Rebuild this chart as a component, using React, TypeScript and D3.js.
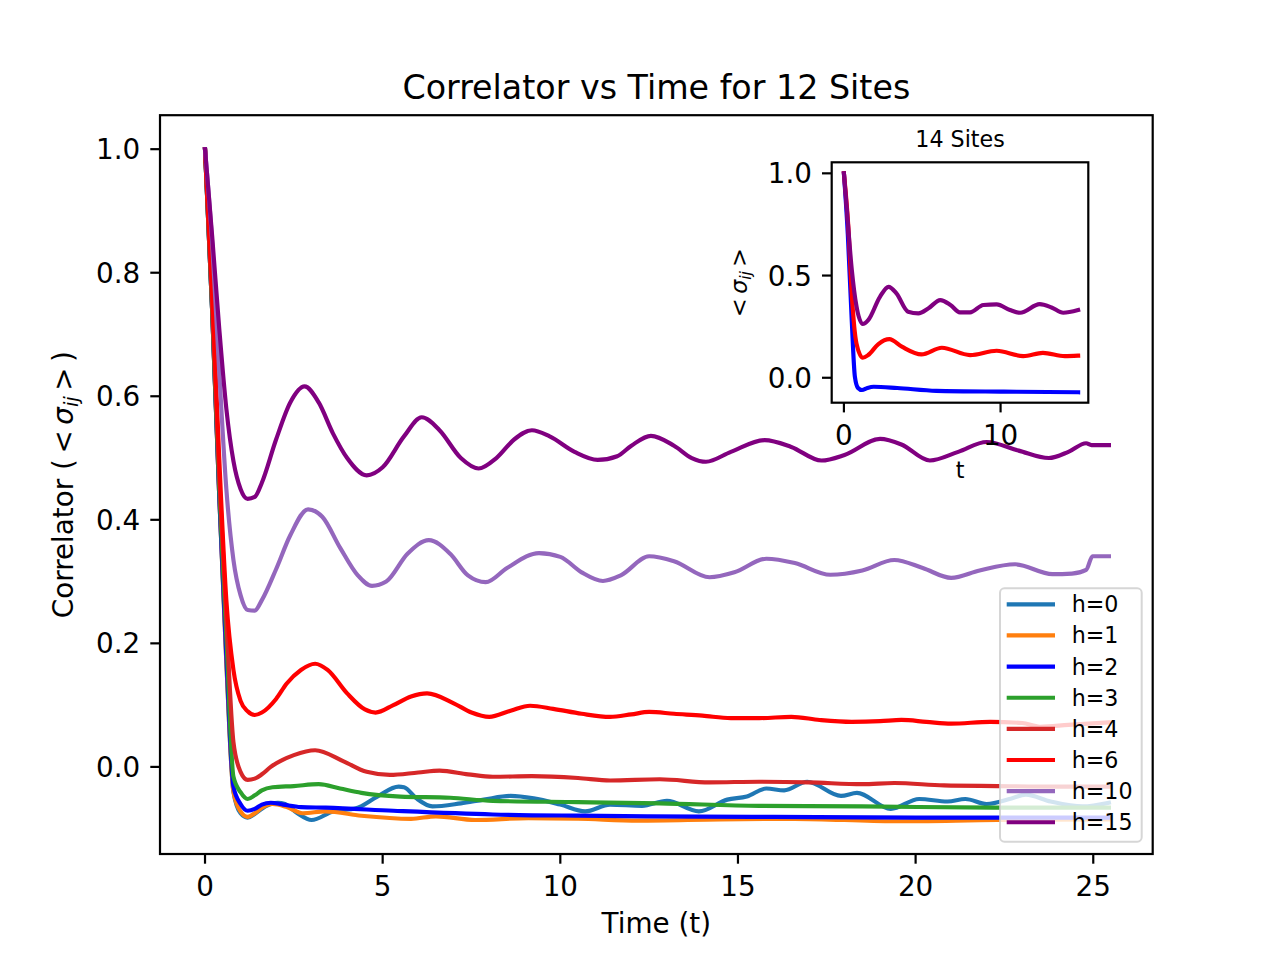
import React, { useEffect } from "react";
import * as d3 from "d3";

type Pt = [number, number];

// 12 sites, main panel: [t, correlator]
const h0: Pt[] = [
  [0, 1], [0.2, 0.74], [0.4, 0.44], [0.6, 0.17], [0.8, -0.04], [1.0, -0.075], [1.2, -0.082], [1.4, -0.076],
  [1.7, -0.064], [2.05, -0.058], [2.25, -0.06], [2.6, -0.075], [3.0, -0.086], [3.6, -0.072], [4.25, -0.067],
  [4.85, -0.048], [5.45, -0.032], [5.6, -0.033], [5.95, -0.051], [6.4, -0.064], [7.2, -0.059], [7.85, -0.053],
  [8.6, -0.047], [9.25, -0.051], [10.0, -0.061], [10.7, -0.072], [11.4, -0.061], [12.3, -0.063], [13.0, -0.055],
  [13.9, -0.072], [14.7, -0.053], [15.25, -0.048], [15.8, -0.035], [16.3, -0.038], [16.95, -0.024],
  [17.9, -0.047], [18.35, -0.042], [19.3, -0.068], [20.1, -0.052], [20.9, -0.056], [21.4, -0.052],
  [22.0, -0.06], [22.7, -0.051], [23.1, -0.045], [23.8, -0.056], [24.7, -0.064], [25.44, -0.058],
];
const h1: Pt[] = [
  [0, 1], [0.2, 0.74], [0.4, 0.44], [0.6, 0.17], [0.8, -0.04], [1.0, -0.072], [1.2, -0.081], [1.4, -0.075],
  [1.6, -0.066], [1.9, -0.06], [2.3, -0.065], [2.75, -0.075], [3.4, -0.072], [4.4, -0.079], [5.8, -0.084],
  [6.5, -0.08], [7.6, -0.086], [9.1, -0.083], [10.5, -0.084], [12.2, -0.087], [14.5, -0.085], [16.6, -0.084],
  [19.4, -0.088], [22.3, -0.086], [25.44, -0.085],
];
const h2: Pt[] = [
  [0, 1], [0.2, 0.74], [0.4, 0.44], [0.6, 0.18], [0.8, -0.032], [1.0, -0.06], [1.2, -0.071], [1.4, -0.068],
  [1.6, -0.061], [1.85, -0.058], [2.2, -0.061], [2.7, -0.065], [3.4, -0.066], [5.3, -0.071], [8.1, -0.077],
  [10.5, -0.079], [12.5, -0.08], [16, -0.081], [20, -0.082], [25.44, -0.082],
];
const h3: Pt[] = [
  [0, 1], [0.2, 0.74], [0.4, 0.45], [0.6, 0.21], [0.8, -0.016], [1.0, -0.041], [1.2, -0.052], [1.4, -0.046],
  [1.6, -0.038], [1.9, -0.033], [2.5, -0.031], [3.2, -0.028], [3.8, -0.035], [4.4, -0.042], [5.5, -0.048],
  [6.9, -0.05], [8.1, -0.055], [10.5, -0.057], [12.8, -0.059], [15.6, -0.063], [18.5, -0.064], [22.3, -0.066],
  [25.44, -0.066],
];
const h4: Pt[] = [
  [0, 1], [0.2, 0.75], [0.4, 0.47], [0.6, 0.24], [0.8, 0.04], [1.0, -0.008], [1.2, -0.021], [1.4, -0.019],
  [1.6, -0.012], [1.85, 0.0], [2.5, 0.019], [3.1, 0.027], [3.9, 0.009], [4.55, -0.008], [5.2, -0.013],
  [6.0, -0.009], [6.6, -0.006], [7.4, -0.012], [8.1, -0.016], [9.2, -0.015], [10.5, -0.018], [11.4, -0.022],
  [12.8, -0.02], [14.2, -0.025], [15.6, -0.024], [17.0, -0.025], [18.5, -0.028], [19.4, -0.026],
  [20.8, -0.03], [22.3, -0.031], [24.0, -0.032], [25.44, -0.032],
];
const h6: Pt[] = [
  [0, 1], [0.2, 0.77], [0.4, 0.5], [0.6, 0.27], [0.8, 0.157], [1.0, 0.107], [1.2, 0.09], [1.4, 0.084],
  [1.6, 0.088], [2.0, 0.11], [2.3, 0.135], [2.7, 0.157], [3.1, 0.167], [3.45, 0.157], [4.0, 0.119],
  [4.5, 0.093], [4.8, 0.088], [5.3, 0.1], [5.8, 0.114], [6.25, 0.119], [7.0, 0.103], [7.5, 0.088],
  [8.0, 0.081], [8.6, 0.091], [9.15, 0.099], [9.8, 0.094], [10.6, 0.086], [11.4, 0.081], [12.0, 0.085],
  [12.5, 0.089], [13.2, 0.086], [14.0, 0.083], [14.8, 0.079], [15.6, 0.079], [16.5, 0.081], [17.3, 0.076],
  [18.2, 0.073], [19.0, 0.074], [19.6, 0.076], [20.3, 0.073], [21.0, 0.07], [22.1, 0.073], [23.0, 0.071],
  [23.5, 0.065], [24.3, 0.068], [25.44, 0.072],
];
const h10: Pt[] = [
  [0, 1], [0.2, 0.85], [0.4, 0.64], [0.6, 0.45], [0.8, 0.335], [1.0, 0.278], [1.2, 0.254], [1.4, 0.253],
  [1.6, 0.27], [2.0, 0.32], [2.4, 0.375], [2.9, 0.417], [3.3, 0.405], [3.8, 0.355], [4.3, 0.31], [4.7, 0.293],
  [5.1, 0.3], [5.7, 0.345], [6.3, 0.367], [6.9, 0.345], [7.4, 0.31], [7.9, 0.299], [8.5, 0.322], [9.4, 0.346],
  [10.0, 0.34], [10.6, 0.315], [11.2, 0.301], [11.7, 0.31], [12.5, 0.341], [13.2, 0.333], [14.2, 0.307],
  [14.9, 0.315], [15.8, 0.337], [16.6, 0.33], [17.6, 0.311], [18.5, 0.318], [19.4, 0.335], [20.2, 0.322],
  [21.0, 0.306], [21.8, 0.318], [22.8, 0.328], [23.85, 0.312], [24.4, 0.313], [24.8, 0.319], [24.98, 0.341],
  [25.44, 0.341],
];
const h15: Pt[] = [
  [0, 1], [0.2, 0.86], [0.4, 0.71], [0.6, 0.58], [0.8, 0.495], [1.0, 0.45], [1.2, 0.434], [1.4, 0.437],
  [1.6, 0.46], [2.0, 0.53], [2.4, 0.59], [2.8, 0.616], [3.2, 0.59], [3.6, 0.54], [4.0, 0.5], [4.55, 0.472],
  [5.0, 0.485], [5.6, 0.535], [6.1, 0.566], [6.6, 0.545], [7.2, 0.5], [7.7, 0.483], [8.2, 0.5], [8.7, 0.53],
  [9.2, 0.545], [9.7, 0.535], [10.4, 0.51], [11.05, 0.497], [11.6, 0.503], [12.0, 0.52], [12.55, 0.536],
  [13.2, 0.52], [13.7, 0.5], [14.1, 0.494], [14.8, 0.51], [15.75, 0.529], [16.5, 0.518], [17.35, 0.496],
  [18.0, 0.505], [19.0, 0.531], [19.6, 0.522], [20.4, 0.496], [21.2, 0.51], [22.0, 0.526], [22.9, 0.512],
  [23.75, 0.5], [24.3, 0.51], [24.8, 0.524], [24.95, 0.521], [25.44, 0.521],
];

// 14 sites, inset
const inB: Pt[] = [
  [0, 1], [0.25, 0.7], [0.5, 0.28], [0.7, 0.005], [0.9, -0.05], [1.15, -0.06], [1.5, -0.05], [1.9, -0.044],
  [3.4, -0.05], [5.9, -0.064], [10.2, -0.068], [14.95, -0.071],
];
const inR: Pt[] = [
  [0, 1], [0.28, 0.74], [0.5, 0.41], [0.8, 0.168], [1.2, 0.098], [1.55, 0.111], [2.2, 0.165], [2.9, 0.189],
  [3.7, 0.152], [4.95, 0.114], [6.25, 0.147], [8.05, 0.111], [9.75, 0.132], [11.45, 0.106], [12.7, 0.122],
  [14.1, 0.106], [14.95, 0.108],
];
const inP: Pt[] = [
  [0, 1], [0.17, 0.84], [0.5, 0.53], [0.8, 0.35], [1.2, 0.263], [1.55, 0.282], [2.3, 0.396], [2.85, 0.445],
  [3.35, 0.413], [4.1, 0.323], [4.75, 0.315], [5.4, 0.34], [6.15, 0.38], [6.8, 0.356], [7.4, 0.32],
  [8.05, 0.32], [8.9, 0.356], [9.75, 0.359], [10.6, 0.331], [11.25, 0.318], [12.5, 0.36], [13.25, 0.344],
  [14.0, 0.318], [14.95, 0.331],
];

const labels = ["h=0", "h=1", "h=2", "h=3", "h=4", "h=6", "h=10", "h=15"];
const colors = ["#1f77b4", "#ff7f0e", "#0000ff", "#2ca02c", "#d62728", "#ff0000", "#9467bd", "#800080"];
const mainSeries = [h0, h1, h2, h3, h4, h6, h10, h15];
const insetSeries = [inB, inR, inP];
const insetColors = ["#0000ff", "#ff0000", "#800080"];

const xTicks = [0, 5, 10, 15, 20, 25];
const yTicks = [0, 0.2, 0.4, 0.6, 0.8, 1.0];
const inXTicks = [0, 10];
const inYTicks = [0, 0.5, 1.0];

const FONT = "DejaVu Sans";
const LW = 4.17;
const SPINE = 2.2;
const TICK = 9.7;

export default function App() {
  useEffect(() => {
    document.body.style.margin = "0";
  }, []);

  const M = { left: 160, right: 1152.7, top: 115.2, bottom: 854 };
  const x = d3.scaleLinear().domain([-1.267, 26.673]).range([M.left, M.right]);
  const y = d3.scaleLinear().domain([-0.141, 1.055]).range([M.bottom, M.top]);

  const I = { left: 831.7, right: 1088.3, top: 162.3, bottom: 402.7 };
  const ix = d3.scaleLinear().domain([-0.78, 15.6]).range([I.left, I.right]);
  const iy = d3.scaleLinear().domain([-0.122, 1.054]).range([I.bottom, I.top]);

  const line = d3.line<Pt>().x((d) => x(d[0])).y((d) => y(d[1])).curve(d3.curveMonotoneX);
  const iline = d3.line<Pt>().x((d) => ix(d[0])).y((d) => iy(d[1])).curve(d3.curveMonotoneX);

  const th = "\u2009";
  const legX = 1000, legY = 588.3, legW = 141.7, legH = 253.4, legStep = 31.14;

  return (
    <svg width={1280} height={960} style={{ display: "block", background: "#fff" }} fontFamily={FONT}>
      {/* title */}
      <text x={(M.left + M.right) / 2} y={99} textAnchor="middle" fontSize={33.3}>
        Correlator vs Time for 12 Sites
      </text>

      {/* main lines */}
      {mainSeries.map((s, i) => (
        <path key={labels[i]} d={line(s) ?? ""} fill="none" stroke={colors[i]} strokeWidth={LW}
          strokeLinejoin="round" strokeLinecap="square" />
      ))}

      {/* main frame */}
      <rect x={M.left} y={M.top} width={M.right - M.left} height={M.bottom - M.top}
        fill="none" stroke="#000" strokeWidth={SPINE} />

      {/* x ticks */}
      {xTicks.map((t) => (
        <g key={"x" + t}>
          <line x1={x(t)} x2={x(t)} y1={M.bottom} y2={M.bottom + TICK} stroke="#000" strokeWidth={SPINE} />
          <text x={x(t)} y={M.bottom + 42} textAnchor="middle" fontSize={27.8}>{t}</text>
        </g>
      ))}
      {/* y ticks */}
      {yTicks.map((t) => (
        <g key={"y" + t}>
          <line x1={M.left - TICK} x2={M.left} y1={y(t)} y2={y(t)} stroke="#000" strokeWidth={SPINE} />
          <text x={M.left - TICK - 10} y={y(t) + 10} textAnchor="end" fontSize={27.8}>{t.toFixed(1)}</text>
        </g>
      ))}

      <text x={(M.left + M.right) / 2} y={933} textAnchor="middle" fontSize={27.8}>Time (t)</text>
      <text transform={`translate(73,${(M.top + M.bottom) / 2}) rotate(-90)`} textAnchor="middle" fontSize={27.8}>
        <tspan>{"Correlator (" + th + "<" + th}</tspan>
        <tspan fontStyle="italic">σ</tspan>
        <tspan fontStyle="italic" fontSize={19.5} dy={5}>ij</tspan>
        <tspan dy={-5}>{th + ">" + th + ")"}</tspan>
      </text>

      {/* legend */}
      <rect x={legX} y={legY} width={legW} height={legH} rx={4.4} fill="#fff" fillOpacity={0.8}
        stroke="#cccccc" strokeOpacity={0.8} strokeWidth={2} />
      {labels.map((l, i) => {
        const cy = legY + 16 + i * legStep;
        return (
          <g key={"leg" + l}>
            <line x1={legX + 6.7} x2={legX + 55} y1={cy} y2={cy} stroke={colors[i]} strokeWidth={LW} />
            <text x={legX + 71.7} y={cy + 8} fontSize={22.2}>{l}</text>
          </g>
        );
      })}

      {/* inset */}
      <rect x={I.left} y={I.top} width={I.right - I.left} height={I.bottom - I.top} fill="#fff" />
      {insetSeries.map((s, i) => (
        <path key={"in" + i} d={iline(s) ?? ""} fill="none" stroke={insetColors[i]} strokeWidth={LW}
          strokeLinejoin="round" strokeLinecap="square" />
      ))}
      <rect x={I.left} y={I.top} width={I.right - I.left} height={I.bottom - I.top}
        fill="none" stroke="#000" strokeWidth={SPINE} />
      {inXTicks.map((t) => (
        <g key={"ix" + t}>
          <line x1={ix(t)} x2={ix(t)} y1={I.bottom} y2={I.bottom + TICK} stroke="#000" strokeWidth={SPINE} />
          <text x={ix(t)} y={I.bottom + 42} textAnchor="middle" fontSize={27.8}>{t}</text>
        </g>
      ))}
      {inYTicks.map((t) => (
        <g key={"iy" + t}>
          <line x1={I.left - TICK} x2={I.left} y1={iy(t)} y2={iy(t)} stroke="#000" strokeWidth={SPINE} />
          <text x={I.left - TICK - 10} y={iy(t) + 10} textAnchor="end" fontSize={27.8}>{t.toFixed(1)}</text>
        </g>
      ))}
      <text x={(I.left + I.right) / 2} y={146.7} textAnchor="middle" fontSize={22.2}>14 Sites</text>
      <text x={(I.left + I.right) / 2} y={478} textAnchor="middle" fontSize={22.2}>t</text>
      <text transform={`translate(747,${(I.top + I.bottom) / 2}) rotate(-90)`} textAnchor="middle" fontSize={22.2}>
        <tspan>{"<" + th}</tspan>
        <tspan fontStyle="italic">σ</tspan>
        <tspan fontStyle="italic" fontSize={15.5} dy={4}>ij</tspan>
        <tspan dy={-4}>{th + ">"}</tspan>
      </text>
    </svg>
  );
}
